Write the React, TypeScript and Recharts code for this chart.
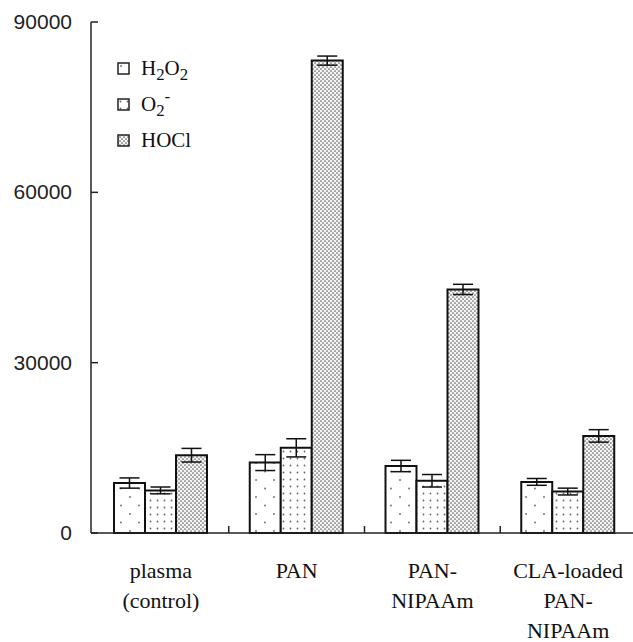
import React from 'react';
import { BarChart, Bar, XAxis, YAxis, ErrorBar, Legend } from 'recharts';

const categories = ['plasma (control)', 'PAN', 'PAN-NIPAAm', 'CLA-loaded PAN-NIPAAm'];
const tickLines = [['plasma', '(control)'], ['PAN'], ['PAN-', 'NIPAAm'], ['CLA-loaded', 'PAN-', 'NIPAAm']];
const h2o2 = [8800, 12400, 11800, 9000];
const h2o2Err = [900, 1400, 1000, 600];
const o2 = [7500, 15000, 9200, 7300];
const o2Err = [600, 1600, 1100, 600];
const hocl = [13700, 83200, 42900, 17100];
const hoclErr = [1200, 800, 900, 1100];
const yTicks = [0, 30000, 60000, 90000];

const data = categories.map((name, i) => ({
  name,
  h2o2: h2o2[i],
  h2o2Err: h2o2Err[i],
  o2: o2[i],
  o2Err: o2Err[i],
  hocl: hocl[i],
  hoclErr: hoclErr[i],
}));

const series = [
  { key: 'h2o2', name: 'H2O2', fill: 'url(#patH2O2)' },
  { key: 'o2', name: 'O2-', fill: 'url(#patO2)' },
  { key: 'hocl', name: 'HOCl', fill: 'url(#patHOCl)' },
];

const sub = { fontSize: '0.8em', position: 'relative' as const, top: 5 };
const sup = { fontSize: '0.8em', position: 'relative' as const, top: -9 };

function legendLabel(name: string) {
  if (name === 'H2O2') return <span>H<span style={sub}>2</span>O<span style={sub}>2</span></span>;
  if (name === 'O2-') return <span>O<span style={sub}>2</span><span style={sup}>-</span></span>;
  return <span>{name}</span>;
}

function LegendBox(props: any) {
  const items = [...(props.payload ?? [])].sort(
    (a: any, b: any) => series.findIndex((s) => s.name === a.value) - series.findIndex((s) => s.name === b.value),
  );
  return (
    <div style={{ fontFamily: "'Liberation Serif', serif", fontSize: 21, color: '#111' }}>
      {items.map((it: any) => (
        <div key={it.value} style={{ display: 'flex', alignItems: 'center', height: 36 }}>
          <svg width={13} height={13} style={{ marginRight: 11 }}>
            <rect x={1} y={1} width={11} height={11} fill={it.color} stroke="#222" strokeWidth={1.5} />
          </svg>
          {legendLabel(it.value)}
        </div>
      ))}
    </div>
  );
}

function CategoryTick(props: any) {
  const { x, y, payload, index } = props;
  const lines = tickLines[index] ?? [String(payload.value)];
  const half = payload.offset ?? 68;
  return (
    <g>
      {index < categories.length - 1 && (
        <line x1={x + half} x2={x + half} y1={y} y2={y - 7} stroke="#222" strokeWidth={1.5} />
      )}
      <text x={x} y={y} textAnchor="middle" fontFamily="'Liberation Serif', serif" fontSize={22} fill="#111">
        {lines.map((l, i) => (
          <tspan key={i} x={x} dy={i === 0 ? 45 : 30}>{l}</tspan>
        ))}
      </text>
    </g>
  );
}

function ValueTick(props: any) {
  const { y, payload } = props;
  const axisX = 91;
  return (
    <g>
      <line x1={axisX} x2={axisX + 7} y1={y} y2={y} stroke="#222" strokeWidth={1.5} />
      <text x={72} y={y} dy={7} textAnchor="end" fontFamily="'Liberation Sans', sans-serif" fontSize={21} fill="#222">
        {payload.value}
      </text>
    </g>
  );
}

export default function App() {
  return (
    <div style={{ position: 'absolute', left: 0, top: 0, width: 633, height: 642, overflow: 'hidden', background: '#fff' }}>
      <BarChart
        width={636}
        height={642}
        data={data}
        margin={{ top: 22, right: 0, left: 0, bottom: 0 }}
        barCategoryGap={21}
        barGap={0}
      >
        <defs>
          <pattern id="patH2O2" width="18" height="17" patternUnits="userSpaceOnUse">
            <rect width="18" height="17" fill="#fff" />
            <circle cx="4" cy="4" r="1" fill="#777" />
            <circle cx="13" cy="12.5" r="1" fill="#777" />
          </pattern>
          <pattern id="patO2" width="7" height="7" patternUnits="userSpaceOnUse">
            <rect width="7" height="7" fill="#fff" />
            <circle cx="3.5" cy="3.5" r="0.9" fill="#666" />
          </pattern>
          <pattern id="patHOCl" width="4" height="4" patternUnits="userSpaceOnUse">
            <rect width="4" height="4" fill="#f4f4f4" />
            <circle cx="1" cy="1" r="0.85" fill="#666" />
            <circle cx="3" cy="3" r="0.85" fill="#666" />
          </pattern>
        </defs>
        <XAxis
          dataKey="name"
          height={109}
          padding={{ left: 2, right: 0 }}
          axisLine={{ stroke: '#222', strokeWidth: 1.5 }}
          tickLine={false}
          tickSize={0}
          tickMargin={0}
          interval={0}
          tick={<CategoryTick />}
        />
        <XAxis
          xAxisId="top"
          orientation="top"
          dataKey="name"
          height={0}
          tick={false}
          tickLine={false}
          axisLine={{ stroke: '#222', strokeWidth: 1.5 }}
        />
        <YAxis
          width={91}
          domain={[0, 90000]}
          ticks={yTicks}
          interval={0}
          tickLine={false}
          axisLine={{ stroke: '#222', strokeWidth: 1.5 }}
          tick={<ValueTick />}
        />
        <Legend
          layout="vertical"
          align="center"
          verticalAlign="middle"
          wrapperStyle={{ left: 117, top: 50, width: 'auto' }}
          content={<LegendBox />}
        />
        {series.map((s) => (
          <Bar
            key={s.key}
            dataKey={s.key}
            name={s.name}
            fill={s.fill}
            stroke="#111"
            strokeWidth={2}
            isAnimationActive={false}
          >
            <ErrorBar dataKey={`${s.key}Err`} width={10} stroke="#111" strokeWidth={1.5} />
          </Bar>
        ))}
      </BarChart>
    </div>
  );
}
